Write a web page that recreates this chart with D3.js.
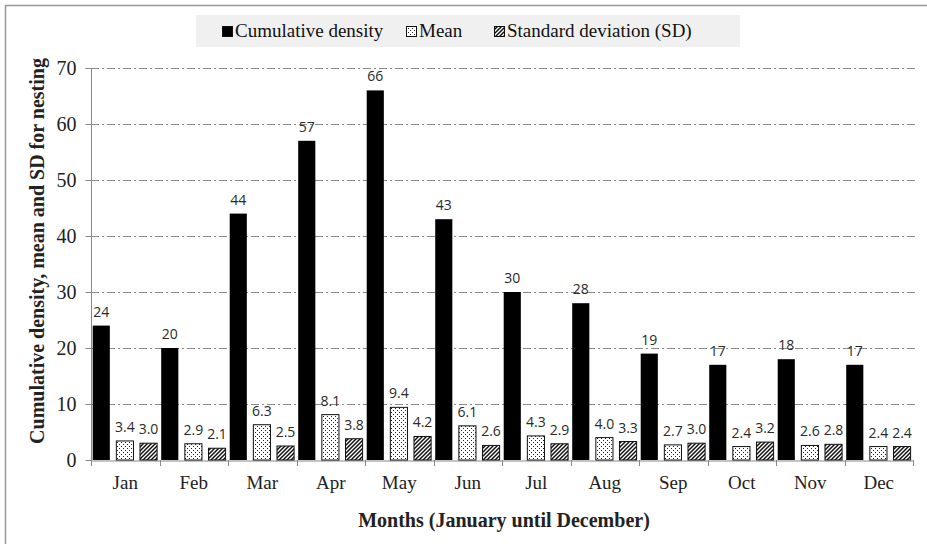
<!DOCTYPE html>
<html>
<head>
<meta charset="utf-8">
<script src="https://cdn.jsdelivr.net/npm/d3@7"></script>
<style>
  body { margin: 0; background: #fff; }
  svg { display: block; }
</style>
</head>
<body>
<div id="chart"></div>
<script>
const months = ['Jan', 'Feb', 'Mar', 'Apr', 'May', 'Jun', 'Jul', 'Aug', 'Sep', 'Oct', 'Nov', 'Dec'];
const cumulative = [24, 20, 44, 57, 66, 43, 30, 28, 19, 17, 18, 17];
const meanVals = [3.4, 2.9, 6.3, 8.1, 9.4, 6.1, 4.3, 4.0, 2.7, 2.4, 2.6, 2.4];
const sdVals = [3.0, 2.1, 2.5, 3.8, 4.2, 2.6, 2.9, 3.3, 3.0, 3.2, 2.8, 2.4];
const yTicks = [0, 10, 20, 30, 40, 50, 60, 70];

const W = 927, H = 544;
const margin = { top: 68, right: 14, bottom: 84, left: 91 };
const width = W - margin.left - margin.right;
const height = H - margin.top - margin.bottom;

const svg = d3.select('#chart')
    .append('svg')
    .attr('width', W)
    .attr('height', H);

// patterns for mean (dots) and SD (hatch)
const defs = svg.append('defs');
const dots = defs.append('pattern')
    .attr('id', 'dots')
    .attr('patternUnits', 'userSpaceOnUse')
    .attr('width', 4).attr('height', 4);
dots.append('rect').attr('width', 4).attr('height', 4).attr('fill', '#fff');
dots.append('rect').attr('x', 0).attr('y', 0).attr('width', 1).attr('height', 1).attr('fill', '#222');
dots.append('rect').attr('x', 2).attr('y', 2).attr('width', 1).attr('height', 1).attr('fill', '#222');

const hatch = defs.append('pattern')
    .attr('id', 'hatch')
    .attr('patternUnits', 'userSpaceOnUse')
    .attr('width', 4).attr('height', 4);
hatch.append('rect').attr('width', 4).attr('height', 4).attr('fill', '#fff');
hatch.append('path')
    .attr('d', 'M-1,1 l2,-2 M0,4 l4,-4 M3,5 l2,-2')
    .attr('stroke', '#111')
    .attr('stroke-width', 1.5);

// outer border
svg.append('rect')
    .attr('x', 5.5).attr('y', 5.5)
    .attr('width', W).attr('height', H)
    .attr('fill', 'none')
    .attr('stroke', '#999')
    .attr('stroke-width', 1.5);

const g = svg.append('g')
    .attr('transform', `translate(${margin.left}, ${margin.top})`);

const x = d3.scaleBand().domain(months).range([0, width]);
const y = d3.scaleLinear().domain([0, 70]).range([height, 0]);

// gridlines
g.selectAll('.grid')
    .data(yTicks.filter(d => d > 0))
    .join('line')
    .attr('x1', 0).attr('x2', width + 2)
    .attr('y1', d => Math.round(y(d)) + 0.5)
    .attr('y2', d => Math.round(y(d)) + 0.5)
    .attr('stroke', '#8a8a8a')
    .attr('stroke-width', 1)
    .attr('stroke-dasharray', '8,3,2,3');

// y axis
const yAxis = g.append('g')
    .attr('transform', 'translate(0.5,0)')
    .call(d3.axisLeft(y).tickValues(yTicks).tickSize(6).tickPadding(9));
yAxis.select('.domain').attr('stroke', '#888').attr('d', `M-6,${y(70) + 0.5}H0V${y(0) + 0.5}`);
yAxis.selectAll('.tick line').attr('stroke', '#888');
yAxis.selectAll('.tick text')
    .attr('font-family', 'Liberation Serif, serif')
    .attr('font-size', 20)
    .attr('fill', '#222');

// x axis
const xAxis = g.append('g')
    .attr('transform', `translate(0, ${height + 0.5})`)
    .call(d3.axisBottom(x).tickSize(0).tickPadding(15));
xAxis.select('.domain').attr('stroke', '#888');
xAxis.selectAll('.tick text')
    .attr('font-family', 'Liberation Serif, serif')
    .attr('font-size', 19)
    .attr('fill', '#222');
g.selectAll('.xtick')
    .data(d3.range(months.length + 1))
    .join('line')
    .attr('x1', i => Math.round(i * x.bandwidth()) + 0.5)
    .attr('x2', i => Math.round(i * x.bandwidth()) + 0.5)
    .attr('y1', height)
    .attr('y2', height + 6)
    .attr('stroke', '#888');

// bars
const bw = x.bandwidth();
const barW = bw * 0.25;
const pitch = bw * 0.345;
const off0 = bw * 0.025;

const series = [
    { vals: cumulative, fill: '#000', stroke: '#000', fmt: d3.format('d') },
    { vals: meanVals, fill: 'url(#dots)', stroke: '#111', fmt: d3.format('.1f') },
    { vals: sdVals, fill: 'url(#hatch)', stroke: '#111', fmt: d3.format('.1f') }
];

series.forEach((s, si) => {
    g.selectAll(`.bar${si}`)
        .data(s.vals)
        .join('rect')
        .attr('x', (d, i) => x(months[i]) + off0 + si * pitch)
        .attr('y', d => y(d))
        .attr('width', barW)
        .attr('height', d => y(0) - y(d))
        .attr('fill', s.fill)
        .attr('stroke', s.stroke)
        .attr('stroke-width', si === 0 ? 0 : 1);

    g.selectAll(`.lbl${si}`)
        .data(s.vals)
        .join('text')
        .attr('x', (d, i) => x(months[i]) + off0 + si * pitch + barW / 2)
        .attr('y', d => y(d) - 9)
        .attr('text-anchor', 'middle')
        .attr('font-family', 'Open Sans, sans-serif')
        .attr('font-size', 14)
        .attr('fill', '#2a2a2a')
        .text(d => s.fmt(d));
});

// axis titles
svg.append('text')
    .attr('transform', `translate(44, 251) rotate(-90)`)
    .attr('text-anchor', 'middle')
    .attr('font-family', 'Liberation Serif, serif')
    .attr('font-weight', 'bold')
    .attr('font-size', 20)
    .attr('fill', '#222')
    .text('Cumulative density, mean and SD for nesting');

svg.append('text')
    .attr('x', 504)
    .attr('y', 527)
    .attr('text-anchor', 'middle')
    .attr('font-family', 'Liberation Serif, serif')
    .attr('font-weight', 'bold')
    .attr('font-size', 20)
    .attr('fill', '#222')
    .text('Months (January until December)');

// legend
const legend = svg.append('g');
legend.append('rect')
    .attr('x', 196).attr('y', 15)
    .attr('width', 544).attr('height', 32)
    .attr('fill', '#f0f0f0');

const legendItems = [
    { label: 'Cumulative density', fill: '#000', x: 222 },
    { label: 'Mean', fill: 'url(#dots)', x: 406 },
    { label: 'Standard deviation (SD)', fill: 'url(#hatch)', x: 494 }
];
legendItems.forEach(it => {
    legend.append('rect')
        .attr('x', it.x + 0.5).attr('y', 26.5)
        .attr('width', 10).attr('height', 10)
        .attr('fill', it.fill)
        .attr('stroke', '#111');
    legend.append('text')
        .attr('x', it.x + 13)
        .attr('y', 37)
        .attr('font-family', 'Liberation Serif, serif')
        .attr('font-size', 19)
        .attr('fill', '#111')
        .text(it.label);
});
</script>
</body>
</html>
